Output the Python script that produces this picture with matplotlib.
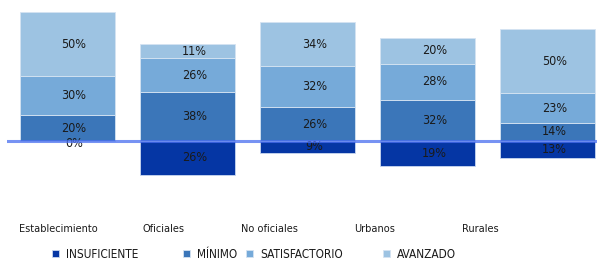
import matplotlib
matplotlib.use("Agg")
import matplotlib.pyplot as plt
import numpy as np

categories = ["Establecimiento", "Oficiales", "No oficiales", "Urbanos", "Rurales"]
insuficiente = [0, 26, 9, 19, 13]
minimo = [20, 38, 26, 32, 14]
satisfactorio = [30, 26, 32, 28, 23]
avanzado = [50, 11, 34, 20, 50]
series_names = ["INSUFICIENTE", "MÍNIMO", "SATISFACTORIO", "AVANZADO"]
colors = ["#0536a4", "#3b76b9", "#76aad9", "#9dc3e2"]

plt.rcParams['font.family'] = ['DejaVu Sans']
FS = dict(fontsize=9, fontstretch='condensed')

W, H = 597, 259
fig = plt.figure(figsize=(W/100, H/100), dpi=100)
ax = fig.add_axes([7/W, 1-212/H, (597-7)/W, (212-5)/H])

x = np.arange(len(categories))
bw = 0.79
handles = []
b0 = ax.bar(x, [-v for v in insuficiente], bw, color=colors[0], edgecolor="#c9d8f0", linewidth=0.6)
handles.append(b0)
bottom = np.zeros(len(x))
ups = [minimo, satisfactorio, avanzado]
for vals, c in zip(ups, colors[1:]):
    b = ax.bar(x, vals, bw, bottom=bottom, color=c, edgecolor="#d5e3f2", linewidth=0.6)
    handles.append(b)
    for xi, v, bt in zip(x, vals, bottom):
        ax.annotate(f"{v}%", (xi, bt + v/2), xytext=(5, 0), textcoords="offset points",
                    ha="center", va="center", color="#1a1a1a", **FS)
    bottom += np.array(vals)
for xi, v in zip(x, insuficiente):
    ax.annotate(f"{v}%", (xi, -v/2), xytext=(5, -2 if v == 0 else 0), textcoords="offset points",
                ha="center", va="center", color="#1a1a1a", **FS)

ax.axhline(0, color="#4a6ff0", alpha=0.75, linewidth=2.2, zorder=5)

ax.set_xlim(-0.5, 4.41)
ax.set_ylim(-55, 105.4)
ax.set_yticks([])
ticks = -0.075 + 0.879 * x
ax.set_xticks(ticks)
ax.set_xticklabels(categories, color="#1a1a1a", fontsize=7.8, fontstretch='condensed')
ax.tick_params(axis='x', length=0, pad=9)
for s in ax.spines.values():
    s.set_visible(False)

leg_x = [52, 183, 246, 383]
for h, name, lx in zip(handles, series_names, leg_x):
    lg = fig.legend([h], [name], loc="center left", bbox_to_anchor=(lx/W, 1-254/H),
                    frameon=False, handlelength=0.6, handleheight=0.6, handletextpad=0.6,
                    borderpad=0, borderaxespad=0, prop=dict(size=8.5, stretch='condensed'))
    for t in lg.get_texts():
        t.set_color("#1a1a1a")

fig.savefig("out.png", dpi=100)
